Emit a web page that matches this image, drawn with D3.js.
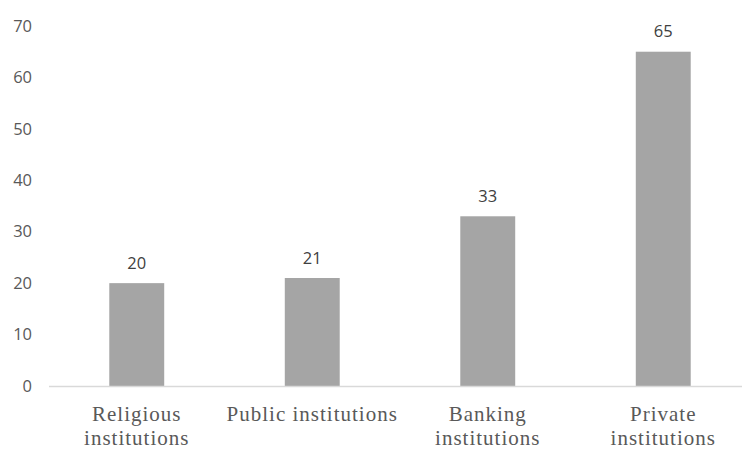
<!DOCTYPE html>
<html>
<head>
<meta charset="utf-8">
<script src="https://cdn.jsdelivr.net/npm/d3@7"></script>
<style>
  body { margin: 0; background: #fff; }
</style>
</head>
<body>
<svg id="chart" width="742" height="451"></svg>
<script>
const categories = [["Religious", "institutions"], ["Public institutions"], ["Banking", "institutions"], ["Private", "institutions"]];
const values = [20, 21, 33, 65];
const yTicks = [0, 10, 20, 30, 40, 50, 60, 70];

const svg = d3.select("#chart");
const baseY = 386, topY = 26;

const x = d3.scaleBand()
  .domain(d3.range(categories.length))
  .range([49, 751])
  .paddingInner(0.687)
  .paddingOuter(0.3435);

const y = d3.scaleLinear().domain([0, 70]).range([baseY, topY]);

// y tick labels (no axis line, no gridlines)
svg.append("g")
  .selectAll("text")
  .data(yTicks)
  .enter()
  .append("text")
  .attr("x", 32)
  .attr("y", (d) => y(d))
  .attr("dy", "0.35em")
  .attr("text-anchor", "end")
  .style("font-family", "'Open Sans', sans-serif")
  .style("font-size", "16.5px")
  .style("fill", "#595959")
  .text((d) => d);

// bars
svg.append("g")
  .selectAll("rect")
  .data(values)
  .enter()
  .append("rect")
  .attr("x", (_, i) => x(i))
  .attr("y", (d) => y(d))
  .attr("width", x.bandwidth())
  .attr("height", (d) => baseY - y(d))
  .style("fill", "#a5a5a5");

// baseline
svg.append("line")
  .attr("x1", 49)
  .attr("x2", 742)
  .attr("y1", baseY + 0.5)
  .attr("y2", baseY + 0.5)
  .style("stroke", "#d9d9d9")
  .style("stroke-width", 1.5);

// value labels
svg.append("g")
  .selectAll("text")
  .data(values)
  .enter()
  .append("text")
  .attr("x", (_, i) => x(i) + x.bandwidth() / 2)
  .attr("y", (d) => y(d) - 20)
  .attr("dy", "0.35em")
  .attr("text-anchor", "middle")
  .style("font-family", "'Open Sans', sans-serif")
  .style("font-size", "16.5px")
  .style("fill", "#404040")
  .text((d) => d);

// category labels
const cat = svg.append("g")
  .selectAll("text")
  .data(categories)
  .enter()
  .append("text")
  .attr("x", (_, i) => x(i) + x.bandwidth() / 2)
  .attr("y", 421)
  .attr("text-anchor", "middle")
  .style("font-family", "'Liberation Serif', 'Times New Roman', serif")
  .style("font-size", "21px")
  .style("letter-spacing", "1px")
  .style("fill", "#595959");

cat.selectAll("tspan")
  .data((d) => d)
  .enter()
  .append("tspan")
  .attr("x", function () { return d3.select(this.parentNode).attr("x"); })
  .attr("dy", (_, j) => (j === 0 ? 0 : 24))
  .text((d) => d);
</script>
</body>
</html>
